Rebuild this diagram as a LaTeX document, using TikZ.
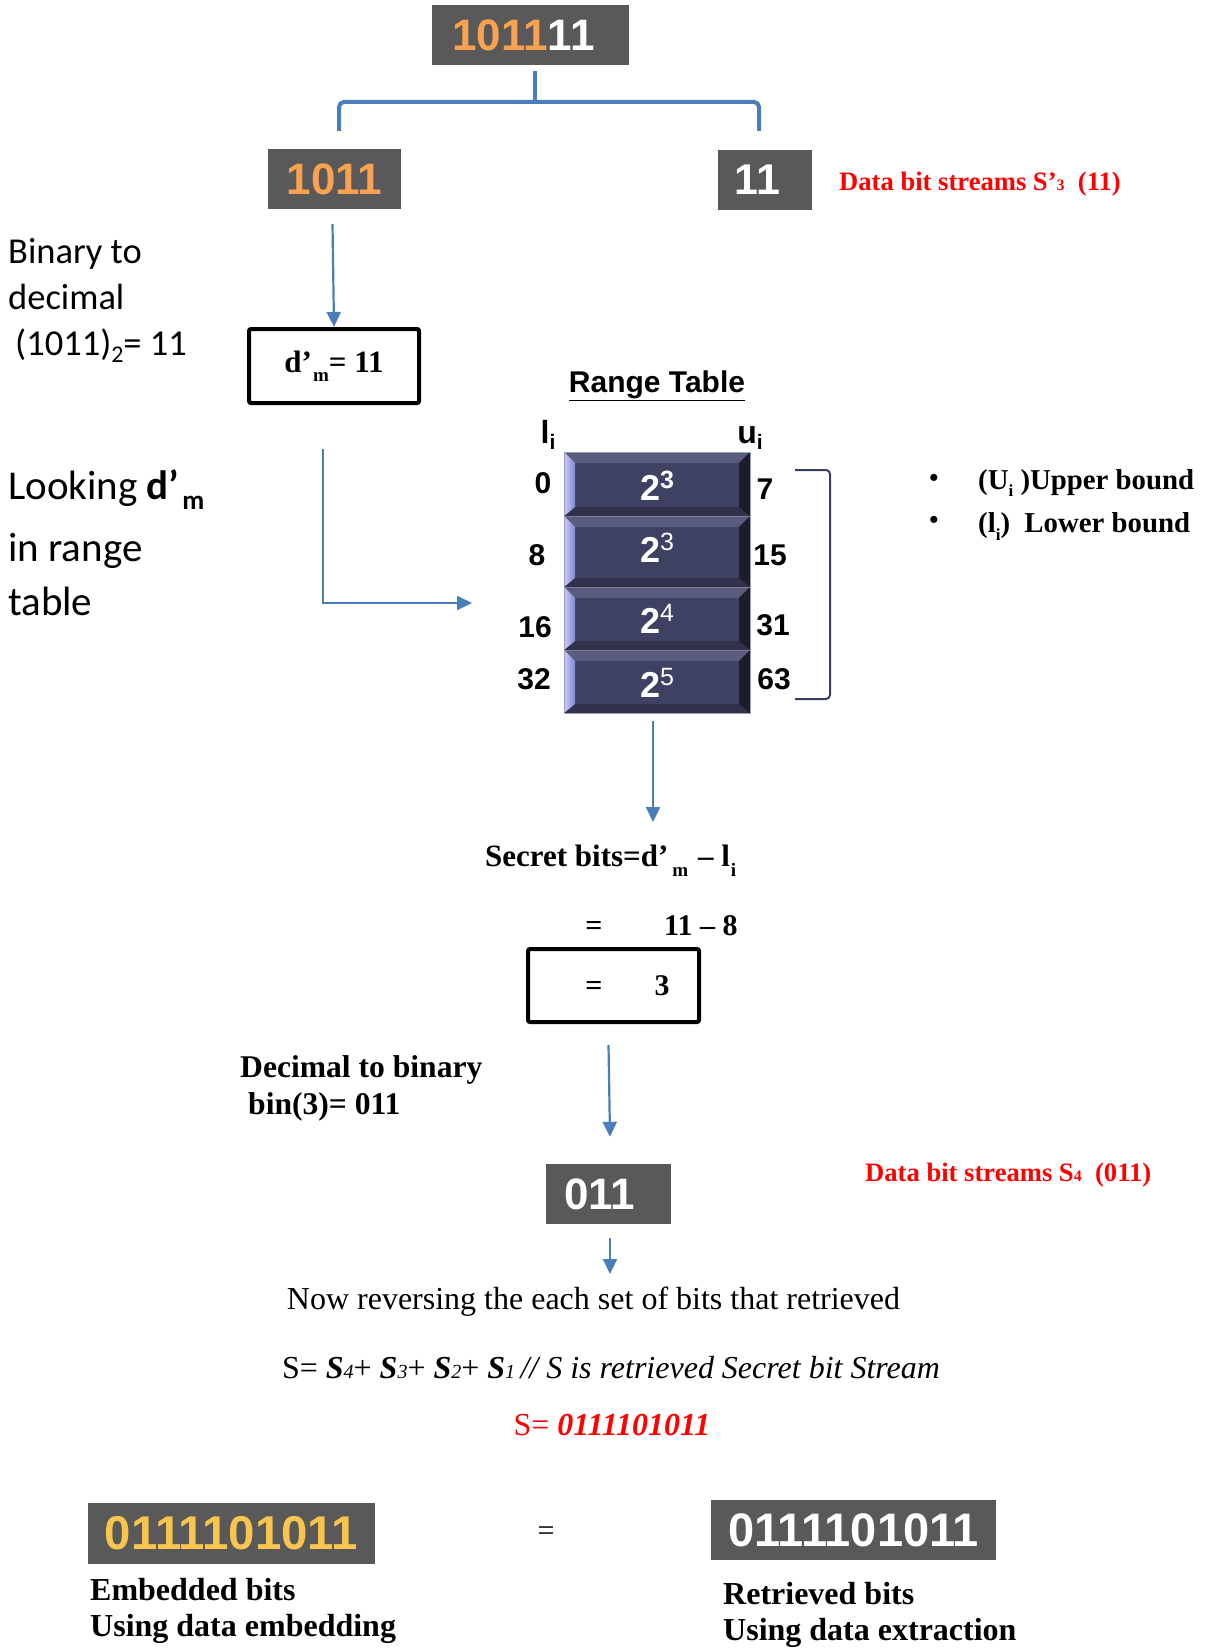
\documentclass[tikz,border=0pt]{standalone}
\usepackage{fontspec}
\setmainfont{Liberation Serif}
\setsansfont{Liberation Sans}
\newfontfamily\calibri{Carlito}
\usetikzlibrary{arrows.meta,calc}
\definecolor{boxgray}{HTML}{595959}
\definecolor{orangetxt}{HTML}{F9A24F}
\definecolor{yellowtxt}{HTML}{F9C54F}
\definecolor{lineblue}{HTML}{4A7EBB}
\definecolor{tabmain}{HTML}{3F4162}
\definecolor{tabtop}{HTML}{5A5C7E}
\definecolor{tabbot}{HTML}{30324B}
\definecolor{tabright}{HTML}{1C1D2B}
\definecolor{tabll}{HTML}{C9CCFF}
\definecolor{tabld}{HTML}{8387CC}
\definecolor{navyline}{HTML}{3A3D63}
\definecolor{redtxt}{HTML}{FF0000}
\newcommand\fsz[1]{\fontsize{#1}{#1}\selectfont}
\begin{document}
\begin{tikzpicture}[x=1pt,y=-1pt,
  gbox/.style={fill=boxgray, inner sep=0pt, text=white},
  arr/.style={draw=lineblue, line width=2.2pt, -{Triangle[length=15pt,width=14pt]}},
  blk/.style={draw=black, line width=4pt, rounded corners=2pt, inner sep=0pt},
  txt/.style={inner sep=0pt},
  cal/.style={txt, anchor=base west, font=\calibri},
  tnum/.style={txt, font=\sffamily\bfseries\fsz{30}},
  tpow/.style={txt, anchor=base, text=white, font=\sffamily\bfseries},
]
\useasboundingbox (0,0) rectangle (1204,1648);

% ---- top split ----
\node[gbox, minimum width=197pt, minimum height=60pt, font=\sffamily\bfseries\fsz{44}] (top) at (530.5,35) {{\color{orangetxt}1011}11\kern14pt};
\node[gbox, minimum width=133pt, minimum height=60pt, font=\sffamily\bfseries\fsz{44}] (b1011) at (334.5,179) {\color{orangetxt}1011};
\node[gbox, minimum width=94pt, minimum height=60pt, font=\sffamily\bfseries\fsz{43}] (b11) at (765,180) {11\kern15pt};
\coordinate (brM) at (535,102);
\coordinate (brL) at (339,131);
\coordinate (brR) at (759,131);
\draw[lineblue, line width=4pt] ([xshift=4.5pt,yshift=-6pt]top.south) -- (brM);
\draw[lineblue, line width=4pt, rounded corners=5pt] (brL) -- (brL|-brM) -- (brR|-brM) -- (brR);
\node[txt, anchor=base west, text=redtxt, font=\bfseries\fsz{26.6}] (s3) at (839,190) {Data bit streams S’{\fsz{16}3}\ \ (11)};

% ---- binary to decimal ----
\node[cal, font=\calibri\fsz{36.5}] (bin1) at (8,263) {Binary to};
\node[cal, font=\calibri\fsz{36.5}] (bin2) at (8,309) {decimal};
\node[cal, font=\calibri\fsz{36.5}] (bin3) at (15,355) {(1011)\raisebox{-7pt}{\fsz{24}2}= 11};
\node[blk, minimum width=170pt, minimum height=74pt, font=\bfseries\fsz{31}] (dm) at (334,366) {d’\hspace{1pt}\raisebox{-9pt}{\fsz{19}m}= 11};
\draw[arr] ([xshift=-2pt,yshift=-15pt]b1011.south) -- (dm.north);

% ---- looking ----
\node[cal, font=\calibri\fsz{41}] (look1) at (8,499) {Looking \textbf{d’}\hspace{3pt}\raisebox{-10pt}{\bfseries\fsz{27}m}};
\node[cal, font=\calibri\fsz{41}] (look2) at (8,561) {in range};
\node[cal, font=\calibri\fsz{41}] (look3) at (8,615) {table};
\coordinate (lA) at (323,449);
\coordinate (lB) at (323,603);
\coordinate (lC) at (472,603);
\draw[arr] (lA) -- (lB) -- (lC);

% ---- range table ----
\node[txt, anchor=base, font=\sffamily\bfseries\fsz{30}] (rt) at (657,392) {\underline{Range Table}};
\node[txt, anchor=base, font=\sffamily\bfseries\fsz{32}] (li) at (548,443) {l\raisebox{-6pt}{\fsz{21}i}};
\node[txt, anchor=base, font=\sffamily\bfseries\fsz{32}] (ui) at (750,443) {u\raisebox{-6pt}{\fsz{21}i}};
\foreach \ya/\yb in {452/516,516/587,587/650,650/713}{
  \fill[tabmain] (564,\ya) rectangle (750,\yb);
  \fill[tabtop] (564,\ya) -- (750,\ya) -- (739,\ya+11) -- (575,\ya+11) -- cycle;
  \fill[tabbot] (564,\yb) -- (750,\yb) -- (739,\yb-9) -- (575,\yb-9) -- cycle;
  \shade[left color=tabll, right color=tabld] (564,\ya) -- (575,\ya+11) -- (575,\yb-9) -- (564,\yb) -- cycle;
  \fill[tabright] (750,\ya) -- (750,\yb) -- (739,\yb-9) -- (739,\ya+11) -- cycle;
  \draw[draw=tabtop!80!white, line width=0.8pt] (564,\ya) -- (750,\ya);
}
\draw[draw=tabtop!60!white, line width=1pt] (564,452) rectangle (750,713);
\node[tpow] (p1) at (657,500) {{\fsz{36}2}\raisebox{12pt}{\fsz{25}3}};
\node[tpow] (p2) at (657,562) {{\fsz{36}2}\raisebox{12pt}{\mdseries\fsz{25}3}};
\node[tpow] (p3) at (657,633) {{\fsz{36}2}\raisebox{12pt}{\mdseries\fsz{25}4}};
\node[tpow] (p4) at (657,697) {{\fsz{36}2}\raisebox{12pt}{\mdseries\fsz{25}5}};
\node[tnum] (l0) at (543,483) {0};
\node[tnum] (l8) at (537,555) {8};
\node[tnum] (l16) at (535,627) {16};
\node[tnum] (l32) at (534,679) {32};
\node[tnum] (u7) at (765,489) {7};
\node[tnum] (u15) at (770,555) {15};
\node[tnum] (u31) at (773,625) {31};
\node[tnum] (u63) at (774,679) {63};
\draw[navyline, line width=2pt, rounded corners=4pt] (795,470) -- (830,470) -- (830,699) -- (795,699);

% ---- bounds legend ----
\node[txt, font=\bfseries\fsz{26}] (bul1) at (934,480) {•};
\node[txt, font=\bfseries\fsz{26}] (bul2) at (934,522) {•};
\node[txt, anchor=base west, font=\bfseries\fsz{28.8}] (ub) at (978,489) {(U\raisebox{-7pt}{\fsz{17}i} )Upper bound};
\node[txt, anchor=base west, font=\bfseries\fsz{28.8}] (lb) at (978,532) {(l\raisebox{-8pt}{\fsz{17}i})\ \ Lower bound};

% ---- secret bits ----
\coordinate (tabbottom) at (653,721);
\coordinate (secTop) at (653,822);
\draw[arr] (tabbottom) -- (secTop);
\node[txt, anchor=base west, font=\bfseries\fsz{31}] (sec) at (485,866) {Secret bits=d’\hspace{4pt}\raisebox{-10pt}{\fsz{19}m}\hspace{2pt} – l\hspace{1pt}\raisebox{-10pt}{\fsz{19}i}};
\node[txt, anchor=base, font=\bfseries\fsz{30}] (eq1) at (594,935) {=};
\node[txt, anchor=base west, font=\bfseries\fsz{30}] (sub) at (664,935) {11 – 8};
\node[blk, minimum width=171pt, minimum height=73pt, font=\bfseries\fsz{30}] (res) at (613.5,985.5) {\hspace*{28pt}=\hspace{52pt}3};

% ---- decimal to binary ----
\node[txt, anchor=base west, font=\bfseries\fsz{31.6}] (d2b1) at (240,1077) {Decimal to binary};
\node[txt, anchor=base west, font=\bfseries\fsz{31.6}] (d2b2) at (248,1114) {bin(3)= 011};
\node[gbox, minimum width=125pt, minimum height=60pt, font=\sffamily\bfseries\fsz{44}] (b011) at (608.5,1194) {011\kern18pt};
\draw[arr] ([yshift=-21pt,xshift=-5pt]res.south) -- ([yshift=27pt,xshift=1.5pt]b011.north);
\node[txt, anchor=base west, text=redtxt, font=\bfseries\fsz{26.6}] (s4) at (865,1181) {Data bit streams S{\fsz{16}4}\ \ (011)};
\coordinate (revTop) at (610,1274);
\draw[arr] ([yshift=-14pt,xshift=1.5pt]b011.south) -- (revTop);

% ---- reversing ----
\node[txt, anchor=base, font=\fsz{32}] (rev) at (593.5,1309) {Now reversing the each set of bits that retrieved};
\node[txt, anchor=base, font=\fsz{32}] (sform) at (611,1378) {S= \textbf{\textit{S}}{\itshape\fsz{20}4}+ \textbf{\textit{S}}{\itshape\fsz{20}3}+ \textbf{\textit{S}}{\itshape\fsz{20}2}+ \textbf{\textit{S}}{\itshape\fsz{20}1}\,\textit{// S is retrieved Secret bit Stream}};
\node[txt, anchor=base, text=redtxt, font=\fsz{32}] (sval) at (612,1435) {S= \textbf{\textit{0111101011}}};

% ---- comparison ----
\node[gbox, minimum width=287pt, minimum height=61pt, font=\sffamily\bfseries\fsz{47.4}] (emb) at (231.5,1533.5) {\color{yellowtxt}0111101011};
\node[gbox, minimum width=285pt, minimum height=60pt, font=\sffamily\bfseries\fsz{47}] (ret) at (853.5,1530) {0111101011};
\node[txt, font=\fsz{30}] (eqb) at (546,1534) {=};
\node[txt, anchor=base west, font=\bfseries\fsz{32}] (e1) at (90,1600) {Embedded bits};
\node[txt, anchor=base west, font=\bfseries\fsz{32}] (e2) at (90,1636) {Using data embedding};
\node[txt, anchor=base west, font=\bfseries\fsz{32}] (r1) at (723,1604) {Retrieved bits};
\node[txt, anchor=base west, font=\bfseries\fsz{32}] (r2) at (723,1640) {Using data extraction};
\end{tikzpicture}
\end{document}
